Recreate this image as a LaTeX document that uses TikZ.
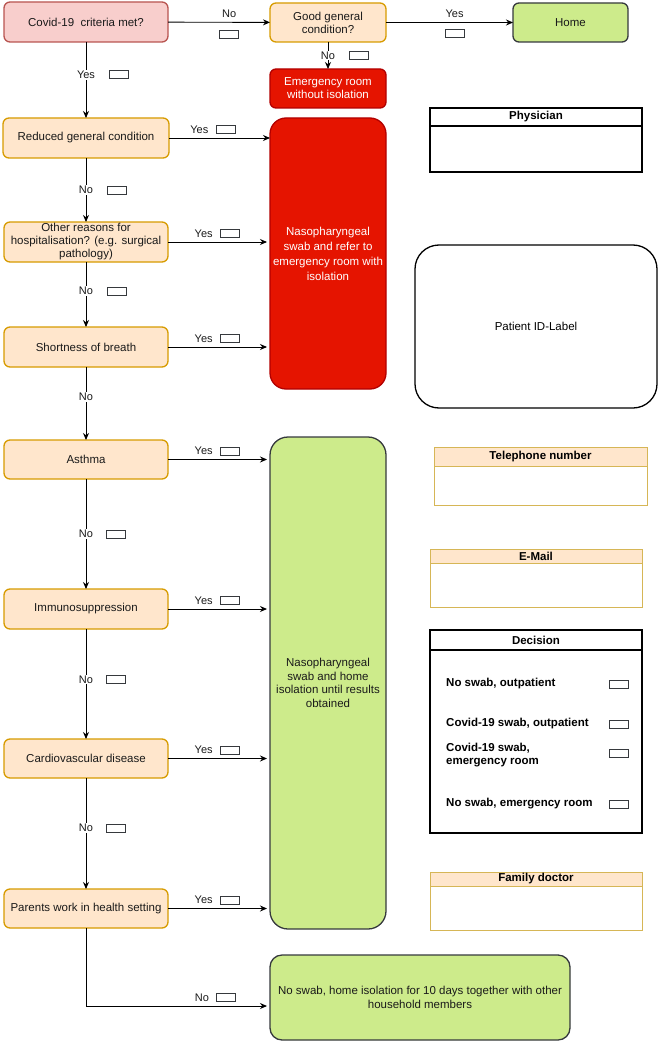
\documentclass[tikz,border=0pt]{standalone}
\usepackage{fontspec}
\setmainfont{Liberation Sans}
\usepackage{xcolor}
\definecolor{peach}{HTML}{FFE6CC}
\definecolor{amber}{HTML}{D79B00}
\definecolor{rose}{HTML}{F8CECC}
\definecolor{brick}{HTML}{B85450}
\definecolor{lime}{HTML}{CDEB8B}
\definecolor{slate}{HTML}{36393D}
\definecolor{alarm}{HTML}{E51400}
\definecolor{alarmdk}{HTML}{B20000}
\definecolor{gold}{HTML}{D6B656}
\definecolor{ink}{HTML}{1A1A1A}
\usepackage{tikz}
\usetikzlibrary{arrows.meta,positioning}

\begin{document}
\begin{tikzpicture}[
  x=1pt,y=-1pt,
  font=\fontsize{11.5}{14}\selectfont,
  query/.style={rectangle,rounded corners=6pt,draw=amber,fill=peach,line width=1.3pt,
                text=ink,minimum width=164pt,minimum height=40pt,align=center,
                inner sep=1pt,outer sep=0pt},
  start/.style={query,draw=brick,fill=rose},
  urgent/.style={query,draw=alarmdk,fill=alarm,text=white},
  calm/.style={query,draw=slate,fill=lime},
  lbl/.style={font=\fontsize{11}{13}\selectfont,text=ink,inner sep=1pt},
  onl/.style={lbl,fill=white},
  chk/.style={rectangle,draw=slate,fill=white,line width=0.8pt,
              minimum width=19pt,minimum height=8pt,inner sep=0pt},
  arr/.style={-{Stealth[length=7pt,width=6pt]},line width=0.9pt,draw=black},
  gap/.style={shorten >=3pt},
  head/.style={rectangle,draw=black,line width=1.5pt,fill=white,minimum width=212pt,
               inner sep=0pt,outer sep=0pt,font=\fontsize{11.5}{14}\selectfont\bfseries},
  body/.style={rectangle,draw=black,line width=1.5pt,fill=white,minimum width=212pt,
               inner sep=0pt,outer sep=0pt},
  thead/.style={head,draw=gold,fill=peach,line width=0.9pt},
  tbody/.style={body,draw=gold,line width=0.9pt},
  pick/.style={anchor=west,align=left,font=\fontsize{11.5}{13}\selectfont\bfseries,
               inner sep=0pt},
]
  \useasboundingbox (0,0) rectangle (660,1043);

  \node[start,minimum height=40pt](crit) at (86,22) {Covid-19\ \ criteria met?};
  \node[query,minimum width=116pt,minimum height=39pt,font=\fontsize{11.5}{13}\selectfont](good)
    at (328,22.5) {Good general\\condition?};
  \node[calm,minimum width=115pt,minimum height=39pt](home) at (570.5,22.5) {Home};
  \node[urgent,minimum width=116pt,minimum height=39pt,font=\fontsize{11.5}{13}\selectfont](er)
    at (328,88.5) {Emergency room\\without isolation};

  \node[query,minimum width=166pt](reduced) at (86,138) {Reduced general condition};
  \node[query,font=\fontsize{11.5}{13}\selectfont](other) at (86,242)
    {Other reasons for\\hospitalisation? (e.g. surgical\\pathology)};
  \node[query](sob) at (86,347) {Shortness of breath};
  \node[query,minimum height=39pt](asthma) at (86,459.5) {Asthma};
  \node[query](immuno) at (86,609) {Immunosuppression};
  \node[query,minimum height=39pt](cardio) at (86,758.5) {Cardiovascular disease};
  \node[query,minimum height=39pt](parents) at (86,908.5) {Parents work in health setting};

  \node[urgent,rounded corners=16pt,minimum width=116pt,minimum height=271pt,
        font=\fontsize{11.5}{15}\selectfont](swabER) at (328,253.5)
    {Nasopharyngeal\\swab and refer to\\emergency room with\\isolation};
  \node[calm,rounded corners=18pt,minimum width=116pt,minimum height=492pt,
        font=\fontsize{11.5}{13.5}\selectfont](swabHome) at (328,683)
    {Nasopharyngeal\\swab and home\\isolation until results\\obtained};
  \node[calm,rounded corners=12pt,minimum width=300pt,minimum height=85pt,
        font=\fontsize{11.5}{14}\selectfont](nohome) at (420,997.5)
    {No swab, home isolation for 10 days together with other\\household members};

  \draw[arr] (crit) -- node[lbl,above=3pt,pos=0.6](no0){No}
                       node[chk,below=8pt,pos=0.6](c0){} (good);
  \draw[arr] (good) -- node[lbl,above=3pt,pos=0.54](yes0){Yes}
                       node[chk,below=7pt,pos=0.54](c1){} (home);
  \draw[arr] (good) -- node[onl,pos=0.5](no1){No} (er);
  \node[chk,right=13pt of no1](c2){};

  \draw[arr] (crit) -- node[onl,pos=0.43](yes1){Yes} (reduced);
  \node[chk,right=13pt of yes1](c3){};
  \draw[arr] (reduced) -- node[onl,pos=0.5](no2){No} (other);
  \node[chk,right=13pt of no2](c4){};
  \draw[arr] (other) -- node[onl,pos=0.45](no3){No} (sob);
  \node[chk,right=13pt of no3](c5){};
  \draw[arr] (sob) -- node[onl,pos=0.41](no4){No} (asthma);
  \draw[arr] (asthma) -- node[onl,pos=0.5](no5){No} (immuno);
  \node[chk,right=12pt of no5](c6){};
  \draw[arr] (immuno) -- node[onl,pos=0.46](no6){No} (cardio);
  \node[chk,right=12pt of no6](c7){};
  \draw[arr] (cardio) -- node[onl,pos=0.45](no7){No} (parents);
  \node[chk,right=12pt of no7](c8){};

  \draw[arr] (reduced.east) -- node[lbl,above=3pt,pos=0.3](yes2){Yes} (reduced.east -| swabER.west);
  \node[chk,right=6pt of yes2](c9){};
  \draw[arr,gap] (other.east) -- node[lbl,above=3pt,pos=0.35](yes3){Yes} (other.east -| swabER.west);
  \node[chk,right=6pt of yes3](c10){};
  \draw[arr,gap] (sob.east) -- node[lbl,above=3pt,pos=0.35](yes4){Yes} (sob.east -| swabER.west);
  \node[chk,right=6pt of yes4](c11){};
  \draw[arr,gap] (asthma.east) -- node[lbl,above=3pt,pos=0.35](yes5){Yes} (asthma.east -| swabHome.west);
  \node[chk,right=6pt of yes5](c12){};
  \draw[arr,gap] (immuno.east) -- node[lbl,above=3pt,pos=0.35](yes6){Yes} (immuno.east -| swabHome.west);
  \node[chk,right=6pt of yes6](c13){};
  \draw[arr,gap] (cardio.east) -- node[lbl,above=3pt,pos=0.35](yes7){Yes} (cardio.east -| swabHome.west);
  \node[chk,right=6pt of yes7](c14){};
  \draw[arr,gap] (parents.east) -- node[lbl,above=3pt,pos=0.35](yes8){Yes} (parents.east -| swabHome.west);
  \node[chk,right=6pt of yes8](c15){};

  \coordinate (bend) at (86,1006);
  \draw[arr,gap] (parents) -- (bend) -- node[lbl,above=3pt,pos=0.63](no8){No} (bend -| nohome.west);
  \node[chk,right=6pt of no8](c16){};

  \node[head,minimum height=18pt](phyhd) at (536,117) {Physician};
  \node[body,minimum height=46pt,below=0pt of phyhd](phybd) {};

  \node[rectangle,rounded corners=24pt,draw=black,line width=1.3pt,
        minimum width=242pt,minimum height=163pt](patient) at (536,326.5) {Patient ID-Label};

  \node[thead,minimum width=213pt,minimum height=19pt](telhd) at (540.5,456.5) {Telephone number};
  \node[tbody,minimum width=213pt,minimum height=39pt,below=0pt of telhd](telbd) {};

  \node[thead,minimum height=14pt](mailhd) at (536,556) {E-Mail};
  \node[tbody,minimum height=44pt,below=0pt of mailhd](mailbd) {};

  \node[head,minimum height=20pt](dechd) at (536,640) {Decision};
  \node[body,minimum height=183pt,below=0pt of dechd](decbd) {};
  \node[pick](d1) at (446,684) {No swab, outpatient};
  \node[chk](k1) at (618.5,684) {};
  \node[pick](d2) at (446,724) {Covid-19 swab, outpatient};
  \node[chk](k2) at (618.5,724) {};
  \node[pick](d3) at (446,755) {Covid-19 swab,\\emergency room};
  \node[chk](k3) at (618.5,753.5) {};
  \node[pick](d4) at (446,804) {No swab, emergency room};
  \node[chk](k4) at (618.5,804) {};

  \node[thead,minimum height=14pt](famhd) at (536,879) {Family doctor};
  \node[tbody,minimum height=44pt,below=0pt of famhd](fambd) {};
\end{tikzpicture}
\end{document}
